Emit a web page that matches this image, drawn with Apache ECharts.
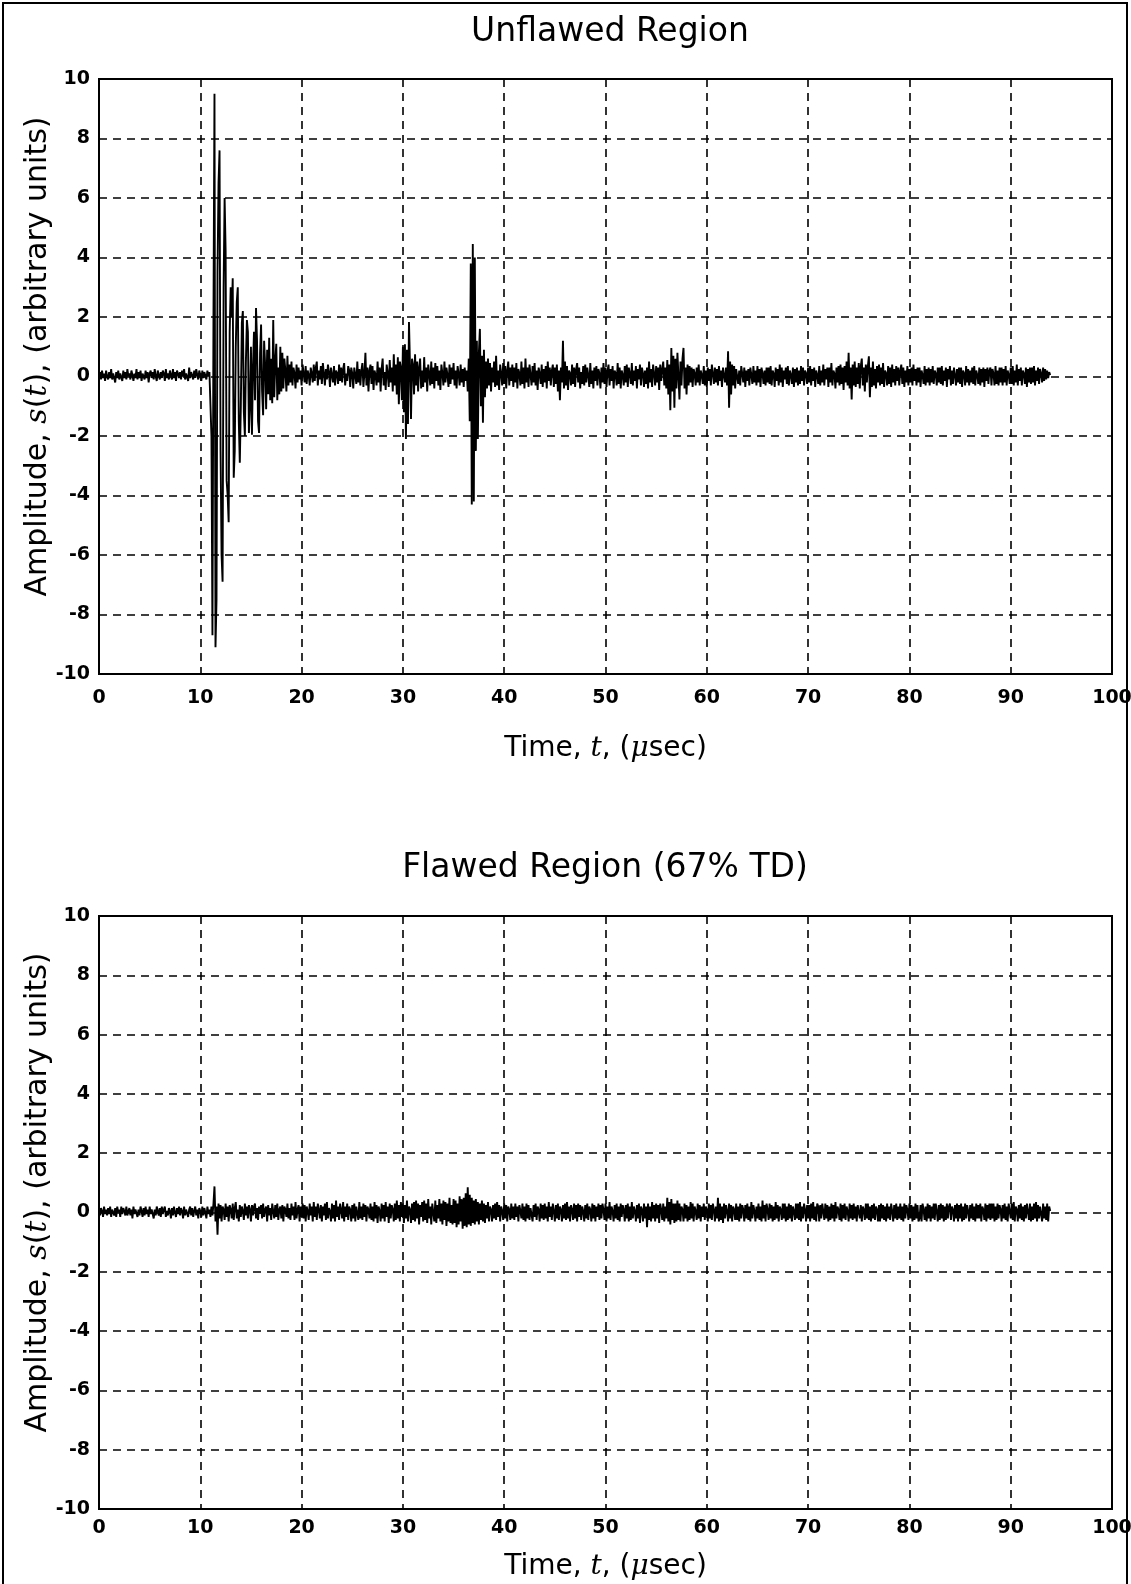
<!DOCTYPE html>
<html><head><meta charset="utf-8">
<script src="https://cdn.jsdelivr.net/npm/echarts@6/dist/echarts.min.js"></script>
<style>html,body{margin:0;padding:0;background:#fff;overflow:hidden}#c{width:1131px;height:1584px}</style>
</head><body><div id="c"></div>
<script>
// Sampling of the recorded traces
const t0 = 0;        // µs
const dt = 0.1;      // µs per sample
const xTicks = [0,10,20,30,40,50,60,70,80,90,100];
const yTicks = [-10,-8,-6,-4,-2,0,2,4,6,8,10];
const titles = ['Unflawed Region', 'Flawed Region (67% TD)'];

// Unflawed region amplitude (one row per µs, 10 samples each)
const unflawed = [
 0.05,0.15,-0.1,0.2,-0.05,0.1,-0.15,0.2,0,-0.1,
 0.15,-0.05,0.25,-0.1,0.1,0.05,-0.2,0.15,-0.05,0.2,
 -0.1,0.1,0.05,-0.15,0.2,-0.05,0.15,-0.1,0.25,0,
 0.1,-0.1,0.2,0.05,-0.15,0.1,-0.05,0.25,-0.1,0.15,
 -0.05,0.2,-0.15,0.1,0.05,-0.1,0.2,-0.05,0.15,-0.2,
 0.1,0.2,-0.05,0.15,-0.1,0.25,0,-0.15,0.2,0.05,
 -0.1,0.15,-0.05,0.2,0.1,-0.15,0.25,-0.05,0.1,-0.1,
 0.2,0.05,-0.1,0.25,-0.05,0.15,-0.15,0.2,0.1,-0.05,
 0.15,-0.1,0.2,0,0.25,-0.1,0.1,0.05,-0.15,0.3,
 -0.05,0.15,0.1,-0.1,0.2,-0.05,0.25,0.05,-0.1,0.2,
 0.05,-0.15,0.2,-0.05,0.15,0.1,-0.1,0.2,0,0.15,
 0.1,-2.0,-8.7,2.0,9.5,-9.1,-7.5,3.5,6.5,7.6,
 -2.5,-6.0,-6.9,3.0,6.0,4.2,-3.5,-4.0,-4.9,1.5,
 3.0,2.0,3.3,-3.4,-2.5,1.0,2.5,3.0,-1.5,-2.9,
 -1.0,1.8,2.2,-1.2,-2.0,0.5,1.9,1.5,-1.9,-1.0,
 1.0,-1.96,0.3,1.5,-0.8,2.3,1.2,-1.5,-1.9,0.8,
 1.75,-0.5,-1.3,1.2,0.4,-1.1,0.9,-0.6,1.3,-0.8,
 0.6,-0.9,1.9,-0.7,0.5,1.1,-0.8,0.3,-0.6,1.0,
 -0.5,0.8,-0.4,0.6,0.2,-0.5,0.7,-0.3,0.4,-0.2,
 0.5,-0.3,0.3,0.1,-0.4,0.4,-0.2,0.3,-0.1,0.2,
 -0.3,0.4,0.1,-0.2,0.35,-0.25,0.2,0.05,-0.3,0.3,
 0.1,-0.2,0.4,-0.15,0.3,0.5,-0.3,0.2,-0.1,0.35,
 -0.25,0.45,0.1,-0.3,0.25,-0.1,0.4,0.15,-0.35,0.3,
 0.05,-0.2,0.35,-0.3,0.2,0.1,-0.25,0.4,-0.15,0.3,
 -0.2,0.25,0.45,-0.3,0.1,-0.15,0.35,0.2,-0.35,0.3,
 0.1,-0.4,0.3,0.05,-0.25,0.5,-0.2,0.25,-0.3,0.2,
 0.45,-0.35,0.1,0.8,-0.3,0.3,-0.5,0.2,0.4,-0.25,
 0.35,-0.45,0.2,0.05,-0.3,0.5,-0.2,0.3,-0.5,0.25,
 0.6,-0.3,0.15,-0.45,0.4,0.1,-0.35,0.55,-0.2,0.3,
 -0.5,0.75,-0.3,0.4,-0.6,0.65,-0.93,0.5,0.3,-0.8,
 1.0,-1.2,1.08,-2.1,0.9,-1.6,1.83,0.4,-1.43,0.6,
 0.4,-0.6,0.75,-0.3,0.5,-0.5,0.3,0.6,-0.4,0.2,
 -0.35,0.65,-0.2,0.3,-0.5,0.4,0.1,-0.3,0.5,-0.25,
 0.3,-0.4,0.45,-0.15,0.35,-0.3,0.2,-0.45,0.4,0.1,
 -0.3,0.5,-0.2,0.3,0.05,-0.35,0.4,-0.25,0.3,-0.1,
 0.45,-0.3,0.2,-0.4,0.35,0.1,-0.3,0.4,-0.2,0.25,
 -0.35,0.3,-0.15,0.2,-0.5,0.6,-1.5,3.8,-4.3,4.45,
 -4.2,4.0,-2.5,1.2,-2.1,0.8,1.6,-1.0,0.7,-1.55,
 0.9,-0.7,0.5,-0.4,0.6,-0.3,0.45,-0.5,0.3,-0.2,
 0.5,-0.35,0.7,-0.3,0.2,-0.45,0.4,0.1,-0.3,0.45,
 -0.25,0.35,-0.4,0.2,0.5,-0.3,0.3,-0.15,0.4,-0.35,
 0.3,-0.2,0.45,-0.4,0.25,0.1,-0.3,0.5,-0.25,0.3,
 -0.4,0.6,-0.2,0.3,-0.35,0.4,0.05,-0.3,0.35,-0.2,
 0.45,-0.3,0.2,-0.45,0.3,0.1,-0.25,0.4,-0.35,0.25,
 -0.2,0.35,-0.4,0.5,-0.15,0.3,-0.3,0.2,0.4,-0.35,
 0.3,-0.25,0.4,-0.5,0.2,-0.8,0.3,-0.2,1.2,-0.4,
 0.5,-0.3,0.35,-0.45,0.2,0.1,-0.3,0.4,-0.25,0.3,
 -0.35,0.25,0.45,-0.2,0.3,-0.4,0.15,-0.25,0.35,-0.3,
 0.4,-0.2,0.3,0.05,-0.35,0.45,-0.25,0.2,-0.4,0.3,
 -0.15,0.35,-0.3,0.25,0.1,-0.4,0.3,-0.2,0.45,-0.25,
 0.3,-0.35,0.2,0.4,-0.3,0.25,-0.15,0.35,-0.4,0.2,
 0.1,-0.3,0.45,-0.25,0.3,-0.4,0.2,0.05,-0.3,0.35,
 -0.2,0.4,-0.35,0.3,0.1,-0.25,0.45,-0.3,0.2,-0.15,
 0.35,-0.4,0.25,-0.1,0.4,-0.3,0.3,0.1,-0.35,0.2,
 -0.25,0.3,-0.4,0.5,-0.2,0.25,-0.35,0.4,0.1,-0.3,
 0.35,-0.2,0.3,-0.45,0.4,-0.15,0.25,0.5,-0.3,0.3,
 -0.4,0.55,-0.6,0.4,-1.13,0.96,-0.5,0.7,-1.05,0.6,
 -0.4,0.8,0.85,-0.77,0.5,-0.3,0.6,0.96,-0.4,0.3,
 -0.6,0.4,-0.3,0.35,-0.2,0.3,-0.35,0.25,0.1,-0.3,
 0.3,-0.2,0.4,-0.3,0.2,0.05,-0.25,0.35,-0.3,0.2,
 -0.35,0.3,-0.15,0.25,-0.3,0.4,0.1,-0.25,0.3,-0.2,
 0.25,-0.3,0.35,-0.15,0.2,-0.35,0.3,0.05,-0.2,0.3,
 -0.3,0.85,-1.05,0.5,-0.6,0.4,-0.3,0.35,-0.4,0.25,
 0.3,-0.25,0.2,-0.3,0.35,0.1,-0.2,0.3,-0.35,0.2,
 -0.15,0.25,-0.3,0.3,0.05,-0.25,0.35,-0.2,0.2,-0.3,
 0.35,-0.2,0.25,-0.35,0.3,0.1,-0.25,0.2,-0.3,0.3,
 -0.2,0.3,-0.25,0.35,-0.3,0.2,0.1,-0.35,0.3,-0.15,
 0.25,-0.3,0.4,-0.2,0.3,-0.35,0.2,-0.1,0.3,-0.25,
 0.35,-0.3,0.2,0.05,-0.25,0.3,-0.35,0.25,-0.2,0.3,
 -0.3,0.2,-0.25,0.35,-0.15,0.3,-0.3,0.2,0.1,-0.25,
 0.3,-0.2,0.35,-0.3,0.25,-0.15,0.3,-0.35,0.2,0.05,
 -0.25,0.35,-0.3,0.2,-0.2,0.4,-0.3,0.25,-0.1,0.3,
 -0.35,0.3,-0.2,0.45,-0.3,0.2,0.1,-0.4,0.3,-0.2,
 0.35,-0.3,0.4,-0.25,0.3,-0.45,0.35,-0.2,0.5,-0.3,
 0.8,-0.4,0.3,-0.77,0.4,-0.3,0.5,-0.35,0.3,-0.25,
 0.45,-0.4,0.35,0.6,-0.3,0.3,-0.5,0.4,-0.2,0.35,
 0.68,-0.7,0.3,-0.35,0.5,-0.3,0.25,-0.4,0.35,-0.2,
 0.4,-0.3,0.3,-0.25,0.45,-0.35,0.2,0.1,-0.3,0.35,
 -0.25,0.3,-0.35,0.4,-0.2,0.25,-0.3,0.35,-0.15,0.3,
 -0.3,0.2,0.4,-0.25,0.3,-0.35,0.2,-0.2,0.35,-0.3,
 0.25,-0.2,0.3,-0.3,0.4,-0.15,0.25,-0.3,0.3,-0.2,
 0.3,-0.35,0.2,0.05,-0.25,0.35,-0.3,0.25,-0.2,0.3,
 -0.3,0.25,-0.2,0.35,-0.25,0.2,0.1,-0.3,0.3,-0.2,
 0.3,-0.25,0.35,-0.3,0.2,-0.15,0.3,-0.35,0.25,-0.1,
 0.35,-0.3,0.2,-0.25,0.3,0.05,-0.3,0.25,-0.2,0.3,
 -0.25,0.3,-0.35,0.2,0.1,-0.3,0.35,-0.2,0.25,-0.3,
 0.2,-0.2,0.3,-0.25,0.35,-0.3,0.2,0.05,-0.25,0.3,
 -0.3,0.25,-0.2,0.3,-0.35,0.25,-0.15,0.3,-0.25,0.2,
 0.3,-0.3,0.25,0.1,-0.3,0.35,-0.25,0.2,-0.3,0.3,
 -0.2,0.3,-0.3,0.25,-0.2,0.35,-0.3,0.2,0.05,-0.25,
 0.3,-0.25,0.35,-0.3,0.2,-0.2,0.4,-0.3,0.25,-0.15,
 0.3,-0.3,0.2,0.1,-0.25,0.3,-0.35,0.25,-0.2,0.3,
 -0.25,0.3,-0.2,0.35,-0.3,0.2,-0.15,0.3,-0.25,0.25,
 0.1,-0.2,0.3,-0.15,0.25,-0.1,0.2,-0.05,0.15,0.05
];

// Flawed region amplitude (one row per µs, 10 samples each)
const flawed = [
 0.1,-0.1,0.15,0.05,-0.15,0.2,-0.05,0.1,-0.1,0.15,
 -0.05,0.2,-0.15,0.1,0.05,-0.1,0.15,-0.15,0.2,0,
 0.1,-0.15,0.2,-0.05,0.15,0.05,-0.1,0.2,-0.1,0.05,
 0.15,-0.1,0.1,-0.2,0.2,-0.05,0.1,0.15,-0.15,0.1,
 -0.1,0.2,0.05,-0.15,0.15,-0.1,0.2,-0.05,0.1,-0.15,
 0.2,-0.05,0.1,0.15,-0.2,0.1,-0.1,0.2,0.05,-0.1,
 0.15,-0.15,0.2,-0.05,0.1,0.2,-0.15,0.05,-0.1,0.15,
 0.05,-0.2,0.15,-0.1,0.2,0,-0.15,0.15,-0.05,0.2,
 -0.1,0.15,0.05,-0.2,0.2,-0.1,0.1,0.15,-0.15,0.1,
 0.2,-0.1,0.15,-0.15,0.05,0.2,-0.1,0.1,-0.2,0.15,
 0.05,-0.15,0.2,-0.1,0.15,0,-0.2,0.2,-0.05,0.1,
 -0.15,0.2,-0.1,0.3,0.88,-0.3,0.2,-0.75,0.3,-0.2,
 0.25,-0.3,0.2,0.1,-0.25,0.3,-0.15,0.2,-0.3,0.25,
 0.1,-0.2,0.3,-0.25,0.15,0.35,-0.2,0.1,-0.3,0.25,
 -0.15,0.2,0.05,-0.25,0.3,-0.1,0.2,-0.2,0.25,0.1,
 -0.3,0.25,-0.1,0.2,0.3,-0.2,0.15,-0.25,0.2,-0.05,
 0.25,-0.2,0.3,-0.15,0.1,0.2,-0.3,0.25,-0.1,0.15,
 -0.25,0.3,0.05,-0.2,0.25,-0.15,0.3,-0.25,0.1,0.2,
 -0.2,0.25,-0.3,0.2,0.1,-0.15,0.3,-0.2,0.15,-0.25,
 0.3,-0.1,0.2,-0.25,0.35,-0.2,0.1,0.25,-0.3,0.2,
 -0.15,0.3,-0.2,0.25,-0.3,0.2,0.05,-0.25,0.3,-0.1,
 0.2,-0.3,0.35,-0.15,0.2,-0.25,0.3,0.1,-0.2,0.25,
 -0.3,0.2,-0.1,0.3,-0.25,0.35,-0.2,0.15,0.05,-0.3,
 0.3,-0.2,0.25,-0.3,0.4,-0.15,0.2,-0.25,0.3,0.1,
 -0.2,0.35,-0.3,0.2,-0.15,0.3,-0.25,0.2,0.1,-0.3,
 0.25,-0.2,0.3,-0.3,0.2,0.15,-0.25,0.35,-0.2,0.2,
 -0.25,0.3,-0.15,0.25,-0.3,0.2,0.1,-0.2,0.3,-0.25,
 0.2,-0.3,0.35,-0.2,0.25,-0.35,0.2,0.05,-0.3,0.3,
 -0.2,0.25,-0.3,0.35,-0.15,0.2,-0.35,0.3,-0.2,0.25,
 0.1,-0.3,0.3,-0.25,0.4,-0.2,0.25,-0.3,0.35,-0.15,
 0.3,-0.35,0.25,-0.2,0.4,-0.3,0.2,0.1,-0.35,0.3,
 -0.25,0.35,-0.3,0.4,-0.2,0.3,-0.4,0.25,-0.15,0.35,
 -0.3,0.4,-0.25,0.3,-0.35,0.45,-0.2,0.2,-0.4,0.3,
 0.35,-0.3,0.4,-0.35,0.25,-0.2,0.45,-0.3,0.3,-0.4,
 0.4,-0.25,0.35,-0.45,0.3,-0.3,0.5,-0.35,0.25,-0.4,
 0.45,-0.35,0.4,-0.5,0.3,-0.4,0.55,-0.3,0.45,-0.55,
 0.5,-0.45,0.65,-0.5,0.85,-0.4,0.6,-0.45,0.5,-0.35,
 0.4,-0.4,0.45,-0.3,0.35,-0.4,0.3,-0.25,0.4,-0.3,
 0.3,-0.35,0.25,-0.2,0.35,-0.3,0.2,0.1,-0.3,0.25,
 -0.2,0.3,-0.25,0.35,-0.15,0.25,-0.3,0.2,0.05,-0.25,
 0.3,-0.2,0.25,-0.3,0.2,0.1,-0.25,0.3,-0.2,0.2,
 -0.25,0.3,-0.15,0.2,-0.3,0.25,0.05,-0.2,0.3,-0.25,
 0.2,-0.3,0.3,-0.2,0.25,-0.25,0.15,0.2,-0.3,0.25,
 -0.15,0.3,-0.25,0.2,0.1,-0.3,0.3,-0.2,0.25,-0.25,
 0.3,-0.2,0.2,-0.3,0.35,-0.15,0.2,-0.25,0.3,0.05,
 -0.3,0.25,-0.2,0.3,-0.25,0.2,0.1,-0.3,0.25,-0.2,
 0.3,-0.25,0.35,-0.2,0.2,-0.3,0.25,0.1,-0.25,0.3,
 -0.2,0.25,-0.3,0.3,-0.15,0.25,-0.25,0.2,0.05,-0.3,
 0.25,-0.2,0.3,-0.25,0.2,0.1,-0.3,0.3,-0.2,0.25,
 -0.3,0.2,-0.15,0.3,-0.25,0.25,-0.2,0.3,0.1,-0.25,
 0.3,-0.3,0.2,-0.2,0.35,-0.25,0.2,0.05,-0.3,0.25,
 -0.2,0.3,-0.25,0.2,-0.3,0.3,-0.15,0.25,0.1,-0.3,
 0.25,-0.2,0.3,-0.3,0.2,-0.25,0.35,-0.2,0.2,0.05,
 -0.3,0.25,-0.2,0.3,-0.35,0.2,0.1,-0.3,0.3,-0.2,
 0.2,-0.5,0.3,-0.25,0.2,-0.3,0.35,-0.2,0.25,-0.3,
 0.3,-0.2,0.25,-0.35,0.3,0.1,-0.25,0.3,-0.3,0.2,
 -0.2,0.5,-0.3,0.35,-0.4,0.45,-0.25,0.3,-0.35,0.3,
 -0.3,0.4,-0.25,0.3,-0.3,0.2,0.1,-0.3,0.3,-0.2,
 0.25,-0.3,0.2,-0.25,0.35,-0.2,0.3,-0.3,0.2,0.05,
 -0.25,0.3,-0.2,0.25,-0.3,0.2,-0.15,0.3,-0.25,0.2,
 0.1,-0.3,0.3,-0.2,0.25,-0.25,0.3,0.1,-0.3,0.2,
 -0.2,0.5,-0.3,0.3,-0.25,0.2,-0.35,0.3,-0.2,0.25,
 0.05,-0.3,0.3,-0.2,0.25,-0.3,0.2,0.1,-0.25,0.3,
 -0.25,0.2,-0.3,0.3,-0.2,0.25,0.1,-0.3,0.25,-0.2,
 0.3,-0.25,0.2,-0.3,0.35,-0.2,0.25,0.05,-0.3,0.2,
 -0.2,0.3,-0.25,0.2,-0.3,0.4,-0.2,0.25,-0.3,0.3,
 0.1,-0.25,0.3,-0.2,0.25,-0.3,0.2,-0.25,0.35,-0.2,
 0.25,-0.3,0.2,0.1,-0.25,0.3,-0.2,0.3,-0.3,0.2,
 -0.25,0.3,-0.2,0.25,-0.3,0.2,0.05,-0.25,0.3,-0.2,
 0.3,-0.25,0.35,-0.3,0.2,-0.2,0.3,0.1,-0.3,0.25,
 -0.2,0.25,-0.3,0.3,-0.2,0.35,-0.25,0.2,-0.3,0.3,
 0.2,-0.3,0.25,-0.2,0.3,0.05,-0.25,0.3,-0.2,0.25,
 -0.3,0.2,-0.25,0.3,-0.2,0.25,-0.3,0.35,-0.2,0.2,
 0.1,-0.25,0.3,-0.3,0.25,-0.2,0.3,-0.25,0.2,0.05,
 -0.3,0.3,-0.2,0.25,-0.25,0.3,-0.2,0.2,-0.3,0.25,
 0.3,-0.2,0.25,-0.3,0.2,0.1,-0.25,0.3,-0.2,0.3,
 -0.25,0.2,-0.3,0.25,-0.2,0.3,-0.25,0.2,0.1,-0.3,
 0.25,-0.3,0.3,-0.2,0.25,-0.25,0.2,-0.3,0.3,-0.2,
 0.2,-0.25,0.3,0.05,-0.3,0.25,-0.2,0.3,-0.25,0.2,
 -0.2,0.3,-0.25,0.2,-0.3,0.3,-0.2,0.25,0.1,-0.25,
 0.3,-0.2,0.25,-0.3,0.2,-0.25,0.3,-0.2,0.25,-0.3,
 -0.2,0.25,-0.3,0.3,0.1,-0.25,0.2,-0.3,0.3,-0.2,
 0.25,-0.3,0.2,-0.2,0.3,-0.25,0.3,0.05,-0.3,0.25,
 -0.25,0.3,-0.2,0.25,-0.3,0.2,-0.25,0.3,-0.2,0.2,
 0.3,-0.25,0.2,0.1,-0.3,0.25,-0.2,0.3,-0.3,0.25,
 -0.2,0.3,-0.3,0.2,-0.25,0.3,-0.2,0.25,0.05,-0.3,
 0.25,-0.2,0.3,-0.25,0.2,-0.3,0.3,-0.2,0.25,-0.2,
 0.3,-0.3,0.2,0.1,-0.25,0.3,-0.3,0.25,-0.2,0.3,
 -0.25,0.3,-0.2,0.3,-0.3,0.2,-0.25,0.3,-0.2,0.25,
 0.1,-0.3,0.25,-0.2,0.3,-0.25,0.2,-0.3,0.3,0.05,
 -0.2,0.3,-0.25,0.35,-0.3,0.2,0.1,-0.3,0.25,-0.2,
 0.3,-0.25,0.2,-0.3,0.25,-0.2,0.3,0.05,-0.25,0.3,
 -0.3,0.2,-0.25,0.3,-0.2,0.35,-0.3,0.25,-0.2,0.2,
 0.25,-0.3,0.3,-0.2,0.2,-0.25,0.3,-0.3,0.2,0.05
];

const toPairs = arr => arr.map((v, i) => [+(t0 + i * dt).toFixed(2), v]);

const FONT = 'DejaVu Sans';
const ITAL = 'DejaVu Serif';

function richName(size, pad) {
  return {
    color: '#000',
    padding: pad || 0,
    rich: {
      n: { fontFamily: FONT, fontSize: size, color: '#000' },
      i: { fontFamily: ITAL, fontStyle: 'italic', fontSize: size, color: '#000' }
    }
  };
}

function xAxisCfg(gi, gap, margin) {
  return {
    type: 'value', gridIndex: gi, min: 0, max: 100, interval: 10,
    name: '{n|Time, }{i|t}{n|, (}{i|\u03bc}{n|sec)}',
    nameLocation: 'middle', nameGap: gap,
    nameTextStyle: richName(28),
    axisLine: { show: true, onZero: false, lineStyle: { color: '#000', width: 2 } },
    axisTick: { show: false },
    axisLabel: { color: '#000', fontFamily: FONT, fontWeight: 'bold', fontSize: 19, margin: margin,
      customValues: xTicks },
    splitLine: { show: true, lineStyle: { color: '#000', width: 1.6, type: [8, 6] } }
  };
}
function yAxisCfg(gi) {
  return {
    type: 'value', gridIndex: gi, min: -10, max: 10, interval: 2,
    name: '{n|Amplitude, }{i|s}{n|(}{i|t}{n|), (arbitrary units)}',
    nameLocation: 'middle', nameGap: 46, nameRotate: 90, nameMoveOverlap: false,
    nameTextStyle: richName(30, [0, 0, 0, 40]),
    axisLine: { show: true, onZero: false, lineStyle: { color: '#000', width: 2 } },
    axisTick: { show: false },
    axisLabel: { color: '#000', fontFamily: FONT, fontWeight: 'bold', fontSize: 19, margin: 9,
      customValues: yTicks },
    splitLine: { show: true, lineStyle: { color: '#000', width: 1.6, type: [8, 6] } }
  };
}

const chart = echarts.init(document.getElementById('c'), null, { renderer: 'canvas' });
chart.setOption({
  animation: false,
  backgroundColor: '#fff',
  title: [
    { text: titles[0], left: 605, textAlign: 'center', top: 11, textStyle: { fontFamily: FONT, fontSize: 33, fontWeight: 'normal', color: '#000' } },
    { text: titles[1], left: 600, textAlign: 'center', top: 847, textStyle: { fontFamily: FONT, fontSize: 33, fontWeight: 'normal', color: '#000' } }
  ],
  grid: [
    { left: 99, top: 79, width: 1013, height: 595, show: true, borderColor: '#000', borderWidth: 2,
      backgroundColor: 'transparent', outerBoundsMode: 'none', containLabel: false },
    { left: 99, top: 916, width: 1013, height: 593, show: true, borderColor: '#000', borderWidth: 2,
      backgroundColor: 'transparent', outerBoundsMode: 'none', containLabel: false }
  ],
  xAxis: [xAxisCfg(0, 61, 15), xAxisCfg(1, 44, 10)],
  yAxis: [yAxisCfg(0), yAxisCfg(1)],
  series: [
    { type: 'line', xAxisIndex: 0, yAxisIndex: 0, data: toPairs(unflawed), showSymbol: false, symbol: 'none',
      lineStyle: { color: '#000', width: 1.9 }, sampling: null, z: 5 },
    { type: 'line', xAxisIndex: 1, yAxisIndex: 1, data: toPairs(flawed), showSymbol: false, symbol: 'none',
      lineStyle: { color: '#000', width: 1.9 }, sampling: null, z: 5 }
  ],
  graphic: [
    { type: 'rect', shape: { x: 3, y: 3, width: 1124, height: 1600 }, style: { fill: null, stroke: '#000', lineWidth: 2 }, silent: true }
  ]
});
</script>
</body></html>
